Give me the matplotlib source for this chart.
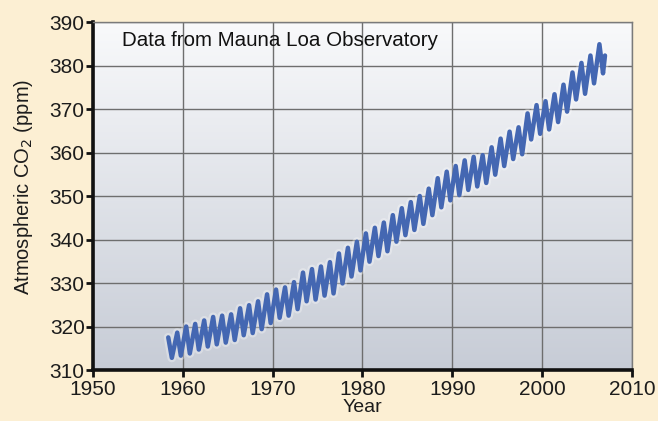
"""Keeling curve: monthly CO2 at Mauna Loa, drawn as seasonal highs and lows."""

import numpy as np
import matplotlib
matplotlib.use("Agg")
import matplotlib.pyplot as plt

plt.rcParams["font.family"] = ["Liberation Sans", "DejaVu Sans"]

# seasonal maximum (around May) and minimum (around Sep/Oct) for each year, ppm
years = list(range(1958, 2007))
co2_high = [
    317.5, 318.6, 320.0, 320.6, 321.4, 322.2, 322.5, 322.8, 324.2, 324.9,
    325.8, 327.4, 328.5, 329.0, 330.2, 332.4, 333.2, 333.8, 334.8, 336.8,
    338.1, 339.5, 341.4, 342.7, 343.9, 345.6, 347.2, 348.6, 350.0, 351.7,
    354.1, 355.6, 356.9, 358.2, 359.0, 359.4, 361.2, 363.2, 364.8, 365.8,
    369.0, 370.9, 371.8, 373.4, 375.6, 378.4, 380.6, 382.3, 384.9,
]
co2_low = [
    312.8, 313.3, 313.8, 314.7, 315.4, 315.9, 316.3, 316.9, 318.0, 318.5,
    319.4, 320.8, 322.0, 322.5, 324.0, 325.8, 326.2, 327.1, 327.6, 329.9,
    331.5, 332.9, 334.9, 336.2, 337.3, 339.5, 341.0, 342.2, 343.6, 345.6,
    347.4, 349.0, 350.2, 351.4, 352.2, 353.0, 354.9, 356.9, 358.5, 359.6,
    363.0, 364.3, 365.3, 367.0, 369.4, 372.2, 373.5, 375.9, 378.2,
]
# last reading at the start of 2007
end_year, end_co2 = 2007.0, 382.3

x_ticks = [1950, 1960, 1970, 1980, 1990, 2000, 2010]
y_ticks = [310, 320, 330, 340, 350, 360, 370, 380, 390]

# interleave highs and lows into one time series
t = []
co2 = []
for yr, hi, lo in zip(years, co2_high, co2_low):
    t += [yr + 0.38, yr + 0.78]
    co2 += [hi, lo]
t.append(end_year)
co2.append(end_co2)

fig = plt.figure(figsize=(6.58, 4.21), dpi=100, facecolor="#fcefd3")
ax = fig.add_axes([0.1413, 0.1211, 0.8191, 0.8266])
ax.set_xlim(1950, 2010)
ax.set_ylim(310, 390)

# white-to-grey vertical wash behind the grid
shade = np.linspace(0, 1, 256)[:, None]
top_col = np.array([0.975, 0.978, 0.985])
bot_col = np.array([0.78, 0.80, 0.84])
grad = top_col + (bot_col - top_col) * shade[..., None]
ax.imshow(grad, extent=[0, 1, 0, 1], transform=ax.transAxes,
          aspect="auto", origin="upper", zorder=0)

ax.set_xticks(x_ticks)
ax.set_yticks(y_ticks)
ax.grid(True, color="#6e6e6e", linewidth=1.0, zorder=1)
ax.set_axisbelow(True)

ax.plot(t, co2, color="white", linewidth=6.5, alpha=0.3,
        solid_joinstyle="round", solid_capstyle="round", zorder=2)
ax.plot(t, co2, color="#4467b2", linewidth=3.2,
        solid_joinstyle="round", solid_capstyle="round", zorder=3)

for side in ("left", "bottom"):
    ax.spines[side].set_linewidth(2.6)
    ax.spines[side].set_color("#111111")
for side in ("top", "right"):
    ax.spines[side].set_linewidth(1.0)
    ax.spines[side].set_color("#7a7a7a")

ax.tick_params(axis="both", which="major", direction="out", length=5,
               width=2, color="#111111", labelsize=15, labelcolor="#1c1c1c")
ax.tick_params(axis="x", pad=2)
ax.tick_params(axis="y", pad=1)

ax.set_xlabel("Year", fontsize=14, color="#1c1c1c", labelpad=0.5)
ax.set_ylabel("Atmospheric CO$_2$ (ppm)", fontsize=14.5, color="#1c1c1c")
ax.yaxis.set_label_coords(-0.108, 0.526)

ax.text(0.053, 0.975, "Data from Mauna Loa Observatory", transform=ax.transAxes,
        fontsize=14.8, color="#111111", ha="left", va="top", zorder=4)

fig.savefig("out.png", dpi=100, facecolor=fig.get_facecolor())
